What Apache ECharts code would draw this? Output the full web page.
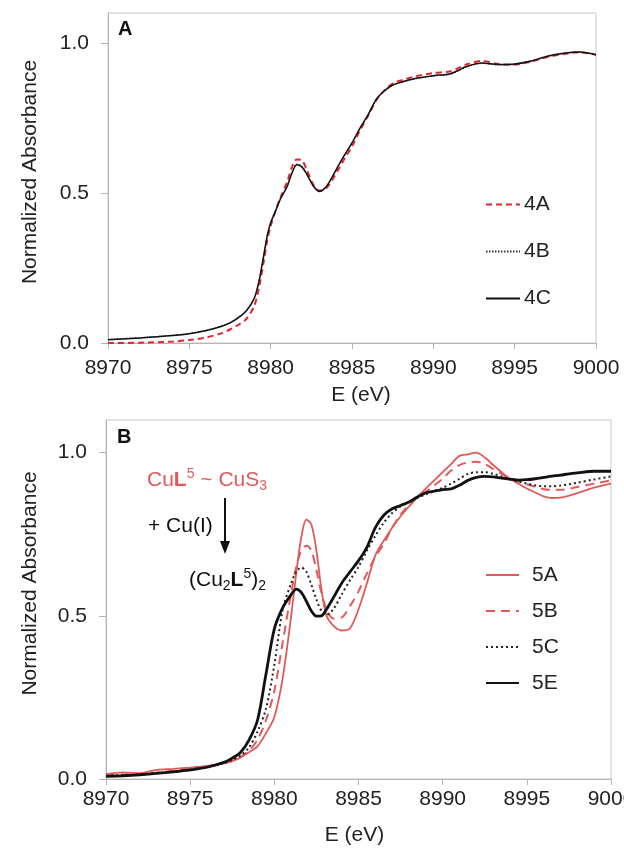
<!DOCTYPE html>
<html>
<head>
<meta charset="utf-8">
<script src="https://cdn.jsdelivr.net/npm/echarts@6/dist/echarts.min.js"></script>
<style>
html,body{margin:0;padding:0;background:#fff;}
#c{width:624px;height:848px;}
</style>
</head>
<body>
<div id="c"></div>
<script>
// ---------- Data ----------
const xTicks = [8970, 8975, 8980, 8985, 8990, 8995, 9000];
const yTicks = [0.0, 0.5, 1.0];

// Panel A energies (eV)
const eA = [8970, 8972, 8974, 8975, 8976, 8977, 8977.5, 8978, 8978.5, 8979,
  8979.3, 8979.6, 8979.8, 8980, 8980.3, 8980.6, 8981, 8981.3, 8981.6, 8981.9,
  8982.2, 8982.6, 8983, 8983.4, 8983.8, 8984.2, 8984.6, 8985, 8985.5, 8986,
  8986.5, 8987, 8987.5, 8988, 8989, 8990, 8991, 8991.5, 8992, 8993,
  8994, 8995, 8996, 8997, 8998, 8999, 9000];
const s4A = [0.0, 0.001, 0.005, 0.01, 0.018, 0.033, 0.045, 0.06, 0.08, 0.125,
  0.19, 0.28, 0.345, 0.39, 0.44, 0.485, 0.535, 0.585, 0.612, 0.61,
  0.58, 0.53, 0.508, 0.515, 0.545, 0.582, 0.62, 0.655, 0.71, 0.758,
  0.81, 0.843, 0.865, 0.875, 0.89, 0.9, 0.905, 0.915, 0.928, 0.94,
  0.93, 0.928, 0.938, 0.953, 0.963, 0.969, 0.961];
const s4B = [0.012, 0.018, 0.026, 0.032, 0.042, 0.057, 0.068, 0.085, 0.108, 0.152,
  0.212, 0.30, 0.362, 0.402, 0.442, 0.482, 0.522, 0.567, 0.596, 0.59,
  0.566, 0.526, 0.506, 0.52, 0.554, 0.594, 0.631, 0.666, 0.716, 0.761,
  0.812, 0.84, 0.859, 0.868, 0.882, 0.89, 0.895, 0.906, 0.92, 0.932,
  0.927, 0.928, 0.938, 0.955, 0.965, 0.969, 0.961];
const s4C = [0.011, 0.017, 0.025, 0.031, 0.041, 0.056, 0.067, 0.084, 0.107, 0.15,
  0.21, 0.30, 0.36, 0.40, 0.44, 0.48, 0.52, 0.565, 0.594, 0.588,
  0.565, 0.525, 0.505, 0.52, 0.555, 0.595, 0.632, 0.667, 0.717, 0.762,
  0.813, 0.841, 0.86, 0.869, 0.883, 0.891, 0.897, 0.908, 0.921, 0.933,
  0.928, 0.93, 0.94, 0.956, 0.966, 0.97, 0.961];

// Panel B energies (eV)
const eB = [8970, 8971, 8972, 8973, 8974, 8975, 8976, 8977, 8977.5, 8978,
  8978.5, 8979, 8979.5, 8980, 8980.5, 8981, 8981.3, 8981.6, 8981.9, 8982.2,
  8982.5, 8982.8, 8983.1, 8983.5, 8984, 8984.5, 8985, 8985.5, 8986, 8986.5,
  8987, 8987.5, 8988, 8988.5, 8989, 8989.5, 8990, 8990.5, 8991, 8991.5,
  8992, 8992.5, 8993, 8993.5, 8994, 8994.5, 8995, 8995.5, 8996, 8996.5,
  8997, 8997.5, 8998, 8999, 9000];
const s5A = [0.015, 0.02, 0.018, 0.028, 0.031, 0.035, 0.04, 0.048, 0.055, 0.066,
  0.082, 0.1, 0.14, 0.19, 0.31, 0.5, 0.63, 0.74, 0.795, 0.78,
  0.70, 0.58, 0.50, 0.47, 0.455, 0.462, 0.52, 0.6, 0.685, 0.73,
  0.77, 0.805, 0.835, 0.864, 0.89, 0.915, 0.94, 0.965, 0.99, 0.995,
  1.0, 0.985, 0.962, 0.94, 0.92, 0.905, 0.89, 0.878, 0.866, 0.861,
  0.862, 0.868, 0.876, 0.893, 0.905];
const s5B = [0.012, 0.014, 0.016, 0.02, 0.025, 0.031, 0.038, 0.048, 0.056, 0.068,
  0.087, 0.12, 0.18, 0.27, 0.42, 0.57, 0.65, 0.70, 0.715, 0.70,
  0.64, 0.57, 0.52, 0.492, 0.495, 0.53, 0.575, 0.63, 0.68, 0.72,
  0.77, 0.81, 0.84, 0.864, 0.88, 0.9, 0.92, 0.945, 0.962, 0.97,
  0.972, 0.965, 0.95, 0.935, 0.92, 0.912, 0.903, 0.895, 0.888, 0.886,
  0.886, 0.889, 0.895, 0.905, 0.915];
const s5C = [0.01, 0.012, 0.014, 0.018, 0.023, 0.029, 0.037, 0.049, 0.058, 0.072,
  0.097, 0.145, 0.215, 0.35, 0.52, 0.6, 0.635, 0.648, 0.635, 0.595,
  0.55, 0.515, 0.503, 0.52, 0.565, 0.61, 0.65, 0.7, 0.745, 0.785,
  0.815, 0.835, 0.85, 0.862, 0.872, 0.882, 0.892, 0.905, 0.92, 0.935,
  0.94, 0.94, 0.935, 0.927, 0.918, 0.912, 0.905, 0.9, 0.897, 0.897,
  0.899, 0.903, 0.908, 0.918, 0.927];
const s5E = [0.008, 0.01, 0.013, 0.017, 0.022, 0.028, 0.036, 0.051, 0.064, 0.082,
  0.12, 0.18, 0.32, 0.46, 0.525, 0.565, 0.582, 0.572, 0.545, 0.515,
  0.499, 0.5, 0.52, 0.555, 0.6, 0.635, 0.669, 0.71, 0.77, 0.808,
  0.828, 0.838, 0.849, 0.864, 0.877, 0.882, 0.887, 0.889, 0.9, 0.915,
  0.924, 0.927, 0.926, 0.922, 0.919, 0.916, 0.917, 0.92, 0.924, 0.928,
  0.931, 0.935, 0.938, 0.943, 0.943];

// ---------- Chart ----------
const FONT = "'Liberation Sans', Arial, sans-serif";
const TXT = '#222';
const AX = '#b5b5b5';
const RED_A = '#e2262f';
const RED_B = '#e05a5a';

const zip = (e, v) => e.map((x, i) => [x, v[i]]);

function xAxisCfg(gi, labelMargin, nameGap, namePad) {
  return {
    type: 'value', gridIndex: gi, min: xTicks[0], max: xTicks[xTicks.length - 1], interval: 5,
    name: 'E (eV)', nameLocation: 'middle', nameGap: nameGap,
    nameTextStyle: { fontSize: 21, color: TXT, fontFamily: FONT, padding: namePad },
    axisLine: { show: true, onZero: false, lineStyle: { color: AX, width: 1 } },
    axisTick: { show: true, inside: false, length: 6, lineStyle: { color: AX } },
    axisLabel: { fontSize: 21, color: TXT, fontFamily: FONT, margin: labelMargin,
      showMinLabel: true, showMaxLabel: true, hideOverlap: false,
      formatter: v => String(v) },
    splitLine: { show: false }
  };
}
function yAxisCfg(gi, nameGap, namePad) {
  return {
    type: 'value', gridIndex: gi, min: 0, max: 1.1, interval: 0.5,
    name: 'Normalized Absorbance', nameLocation: 'middle', nameGap: nameGap,
    nameTextStyle: { fontSize: 21, color: TXT, fontFamily: FONT, padding: namePad },
    axisLine: { show: true, lineStyle: { color: AX, width: 1 } },
    axisTick: { show: true, inside: false, length: 7, lineStyle: { color: AX },
      customValues: yTicks },
    axisLabel: { fontSize: 21, color: TXT, fontFamily: FONT, margin: 19,
      customValues: yTicks,
      formatter: v => v.toFixed(1) },
    splitLine: { show: false }
  };
}
function line(name, e, v, xi, color, width, type) {
  return {
    name: name, type: 'line', xAxisIndex: xi, yAxisIndex: xi,
    data: zip(e, v), symbol: 'none', showSymbol: false, smooth: 0.3, clip: true,
    lineStyle: { color: color, width: width, type: type },
    itemStyle: { color: color },
    z: 3
  };
}

const chart = echarts.init(document.getElementById('c'), null, { renderer: 'canvas' });
chart.setOption({
  animation: false,
  backgroundColor: '#fff',
  textStyle: { fontFamily: FONT },
  grid: [
    { left: 108, top: 13, width: 488, height: 330, show: true, borderColor: '#c8c8c8', borderWidth: 1,
      backgroundColor: 'transparent', containLabel: false, outerBoundsMode: 'none' },
    { left: 106, top: 420, width: 505, height: 359, show: true, borderColor: '#c8c8c8', borderWidth: 1,
      backgroundColor: 'transparent', containLabel: false, outerBoundsMode: 'none' }
  ],
  xAxis: [xAxisCfg(0, 15, 42, [0, 0, 0, 18]), xAxisCfg(1, 10, 46, [0, 8, 0, 0])],
  yAxis: [yAxisCfg(0, 67, [0, 0, 0, 12]), yAxisCfg(1, 65, [0, 0, 0, 32])],
  legend: [
    {
      data: ['4A', '4B', '4C'], orient: 'vertical', left: 485, top: 194, padding: 0,
      itemWidth: 34, itemHeight: 14, itemGap: 26, selectedMode: false,
      itemStyle: { opacity: 0 },
      textStyle: { fontSize: 21, color: TXT, fontFamily: FONT, lineHeight: 20, padding: [0, 0, 0, -1] }
    },
    {
      data: ['5A', '5B', '5C', '5E'], orient: 'vertical', left: 485, top: 561, padding: 0,
      itemWidth: 33, itemHeight: 14, itemGap: 8, selectedMode: false,
      itemStyle: { opacity: 0 },
      textStyle: { fontSize: 21, color: TXT, fontFamily: FONT, lineHeight: 20, padding: [8, 0, 0, 8] }
    }
  ],
  series: [
    line('4A', eA, s4A, 0, RED_A, 2, [6, 4]),
    line('4B', eA, s4B, 0, '#333', 1.2, [1.5, 1.5]),
    line('4C', eA, s4C, 0, '#111', 1.5, 'solid'),
    line('5A', eB, s5A, 1, RED_B, 1.8, 'solid'),
    line('5B', eB, s5B, 1, RED_B, 2, [9, 6]),
    line('5C', eB, s5C, 1, '#222', 2, [2, 3]),
    line('5E', eB, s5E, 1, '#111', 2.8, 'solid')
  ],
  graphic: [
    { type: 'text', left: 118, top: 19, style: { text: 'A', font: 'bold 20px ' + FONT, fill: '#111' } },
    { type: 'text', left: 117, top: 427, style: { text: 'B', font: 'bold 20px ' + FONT, fill: '#111' } },
    {
      type: 'text', left: 147, top: 467,
      style: {
        text: '{n|Cu}{b|L}{sup|5}{n| ~ CuS}{sub|3}',
        fill: RED_B,
        rich: {
          n: { fontSize: 21, fontFamily: FONT, fill: RED_B, lineHeight: 26 },
          b: { fontSize: 21, fontFamily: FONT, fontWeight: 'bold', fill: RED_B, lineHeight: 26 },
          sup: { fontSize: 14, fontFamily: FONT, fill: RED_B, lineHeight: 18, verticalAlign: 'top' },
          sub: { fontSize: 14, fontFamily: FONT, fill: RED_B, lineHeight: 14, verticalAlign: 'bottom' }
        }
      }
    },
    { type: 'text', left: 148, top: 516, style: { text: '+ Cu(I)', font: '21px ' + FONT, fill: '#111' } },
    { type: 'line', shape: { x1: 225, y1: 498, x2: 225, y2: 550 }, style: { stroke: '#111', lineWidth: 2 } },
    { type: 'polygon', shape: { points: [[220, 541], [230, 541], [225, 554]] }, style: { fill: '#111' } },
    {
      type: 'text', left: 189, top: 567,
      style: {
        text: '{n|(Cu}{sub|2}{b|L}{sup|5}{n|)}{sub|2}',
        fill: '#111',
        rich: {
          n: { fontSize: 21, fontFamily: FONT, fill: '#111', lineHeight: 26 },
          b: { fontSize: 21, fontFamily: FONT, fontWeight: 'bold', fill: '#111', lineHeight: 26 },
          sup: { fontSize: 14, fontFamily: FONT, fill: '#111', lineHeight: 18, verticalAlign: 'top' },
          sub: { fontSize: 14, fontFamily: FONT, fill: '#111', lineHeight: 14, verticalAlign: 'bottom' }
        }
      }
    }
  ]
});
</script>
</body>
</html>
